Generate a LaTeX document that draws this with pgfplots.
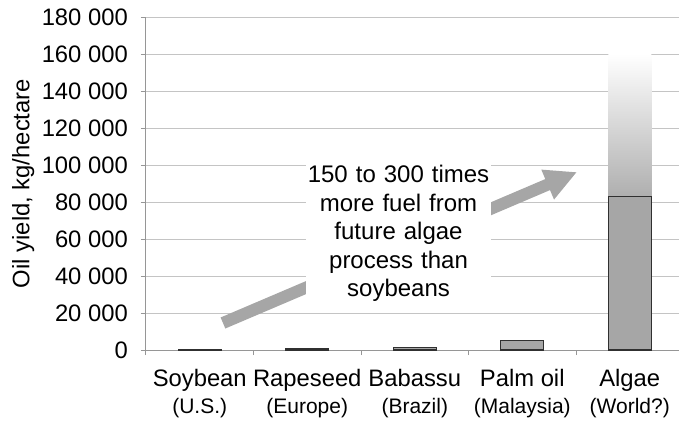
\documentclass[border=0pt]{standalone}
\usepackage{pgfplots}
\pgfplotsset{compat=1.18}
\usepackage{fontspec}
\setmainfont{Liberation Sans}
\usetikzlibrary{arrows.meta}
\definecolor{bargray}{HTML}{A6A6A6}
\definecolor{gridgray}{HTML}{C4C4C4}
\definecolor{axgray}{HTML}{969696}
\definecolor{edgec}{HTML}{303030}
\newcommand\sub[1]{{\fontsize{21}{23}\selectfont #1}}
\begin{document}
\begin{tikzpicture}
\begin{axis}[
  scale only axis, width=533pt, height=333pt,
  xmin=-0.5, xmax=4.458, ymin=0, ymax=180000,
  axis x line*=bottom, axis y line*=left,
  axis line style={axgray, line width=1pt, -},
  ytick={0,20000,40000,60000,80000,100000,120000,140000,160000,180000},
  yticklabels={0,20 000,40 000,60 000,80 000,100 000,120 000,140 000,160 000,180 000},
  ymajorgrids, grid style={gridgray, line width=1pt},
  scaled y ticks=false,
  tick align=outside, major tick length=5pt,
  tick style={axgray, line width=1pt},
  yticklabel style={font=\fontsize{23.8}{28}\selectfont, inner sep=0pt, anchor=east, xshift=-13pt},
  xtick={-0.5,0.5,1.5,2.5,3.5},
  xticklabels={{Soybean\\[4pt]\sub{(U.S.)}},{Rapeseed\\[4pt]\sub{(Europe)}},{Babassu\\[4pt]\sub{(Brazil)}},{Palm oil\\[4pt]\sub{(Malaysia)}},{Algae\\[4pt]\sub{(World?)}}},
  xticklabel style={align=center, font=\fontsize{23.8}{23}\selectfont, inner sep=0pt, anchor=north, xshift=53.75pt, yshift=-14pt},
  ylabel={Oil yield, kg/hectare},
  ylabel style={font=\fontsize{23.8}{28}\selectfont, inner sep=0pt, at={(axis description cs:-0.2514,0.5)}, anchor=north},
]
% fading upper part of the algae bar
\addplot[draw=none, shading=axis, bottom color=bargray!90!white, top color=white, forget plot]
  coordinates {(3.8,83000) (4.2,83000) (4.2,160000) (3.8,160000)} -- cycle;
% bars
\addplot[ybar, bar width=0.4, fill=bargray, draw=edgec, line width=1.3pt, forget plot]
  coordinates {(0,450) (1,1000) (2,1500) (3,5000) (4,83000)};
% arrow
\addplot[bargray, line width=12pt, -{Triangle[width=30pt,length=32pt]}, forget plot]
  coordinates {(0.216,14600) (3.51,96200)};
\node[fill=white, minimum width=185pt, minimum height=155pt, inner sep=0pt] at (axis cs:1.849,64590) {};
\node[text width=185pt, align=center, inner xsep=0pt, inner ysep=0pt,
      font=\fontsize{24}{28.6}\selectfont] at (axis cs:1.849,63020)
  {150 to 300 times\\ more fuel from\\ future algae\\ process than\\ soybeans};
\end{axis}
\pgfresetboundingbox
\useasboundingbox (-146pt,-71pt) rectangle (533pt,350pt);
\end{tikzpicture}
\end{document}
